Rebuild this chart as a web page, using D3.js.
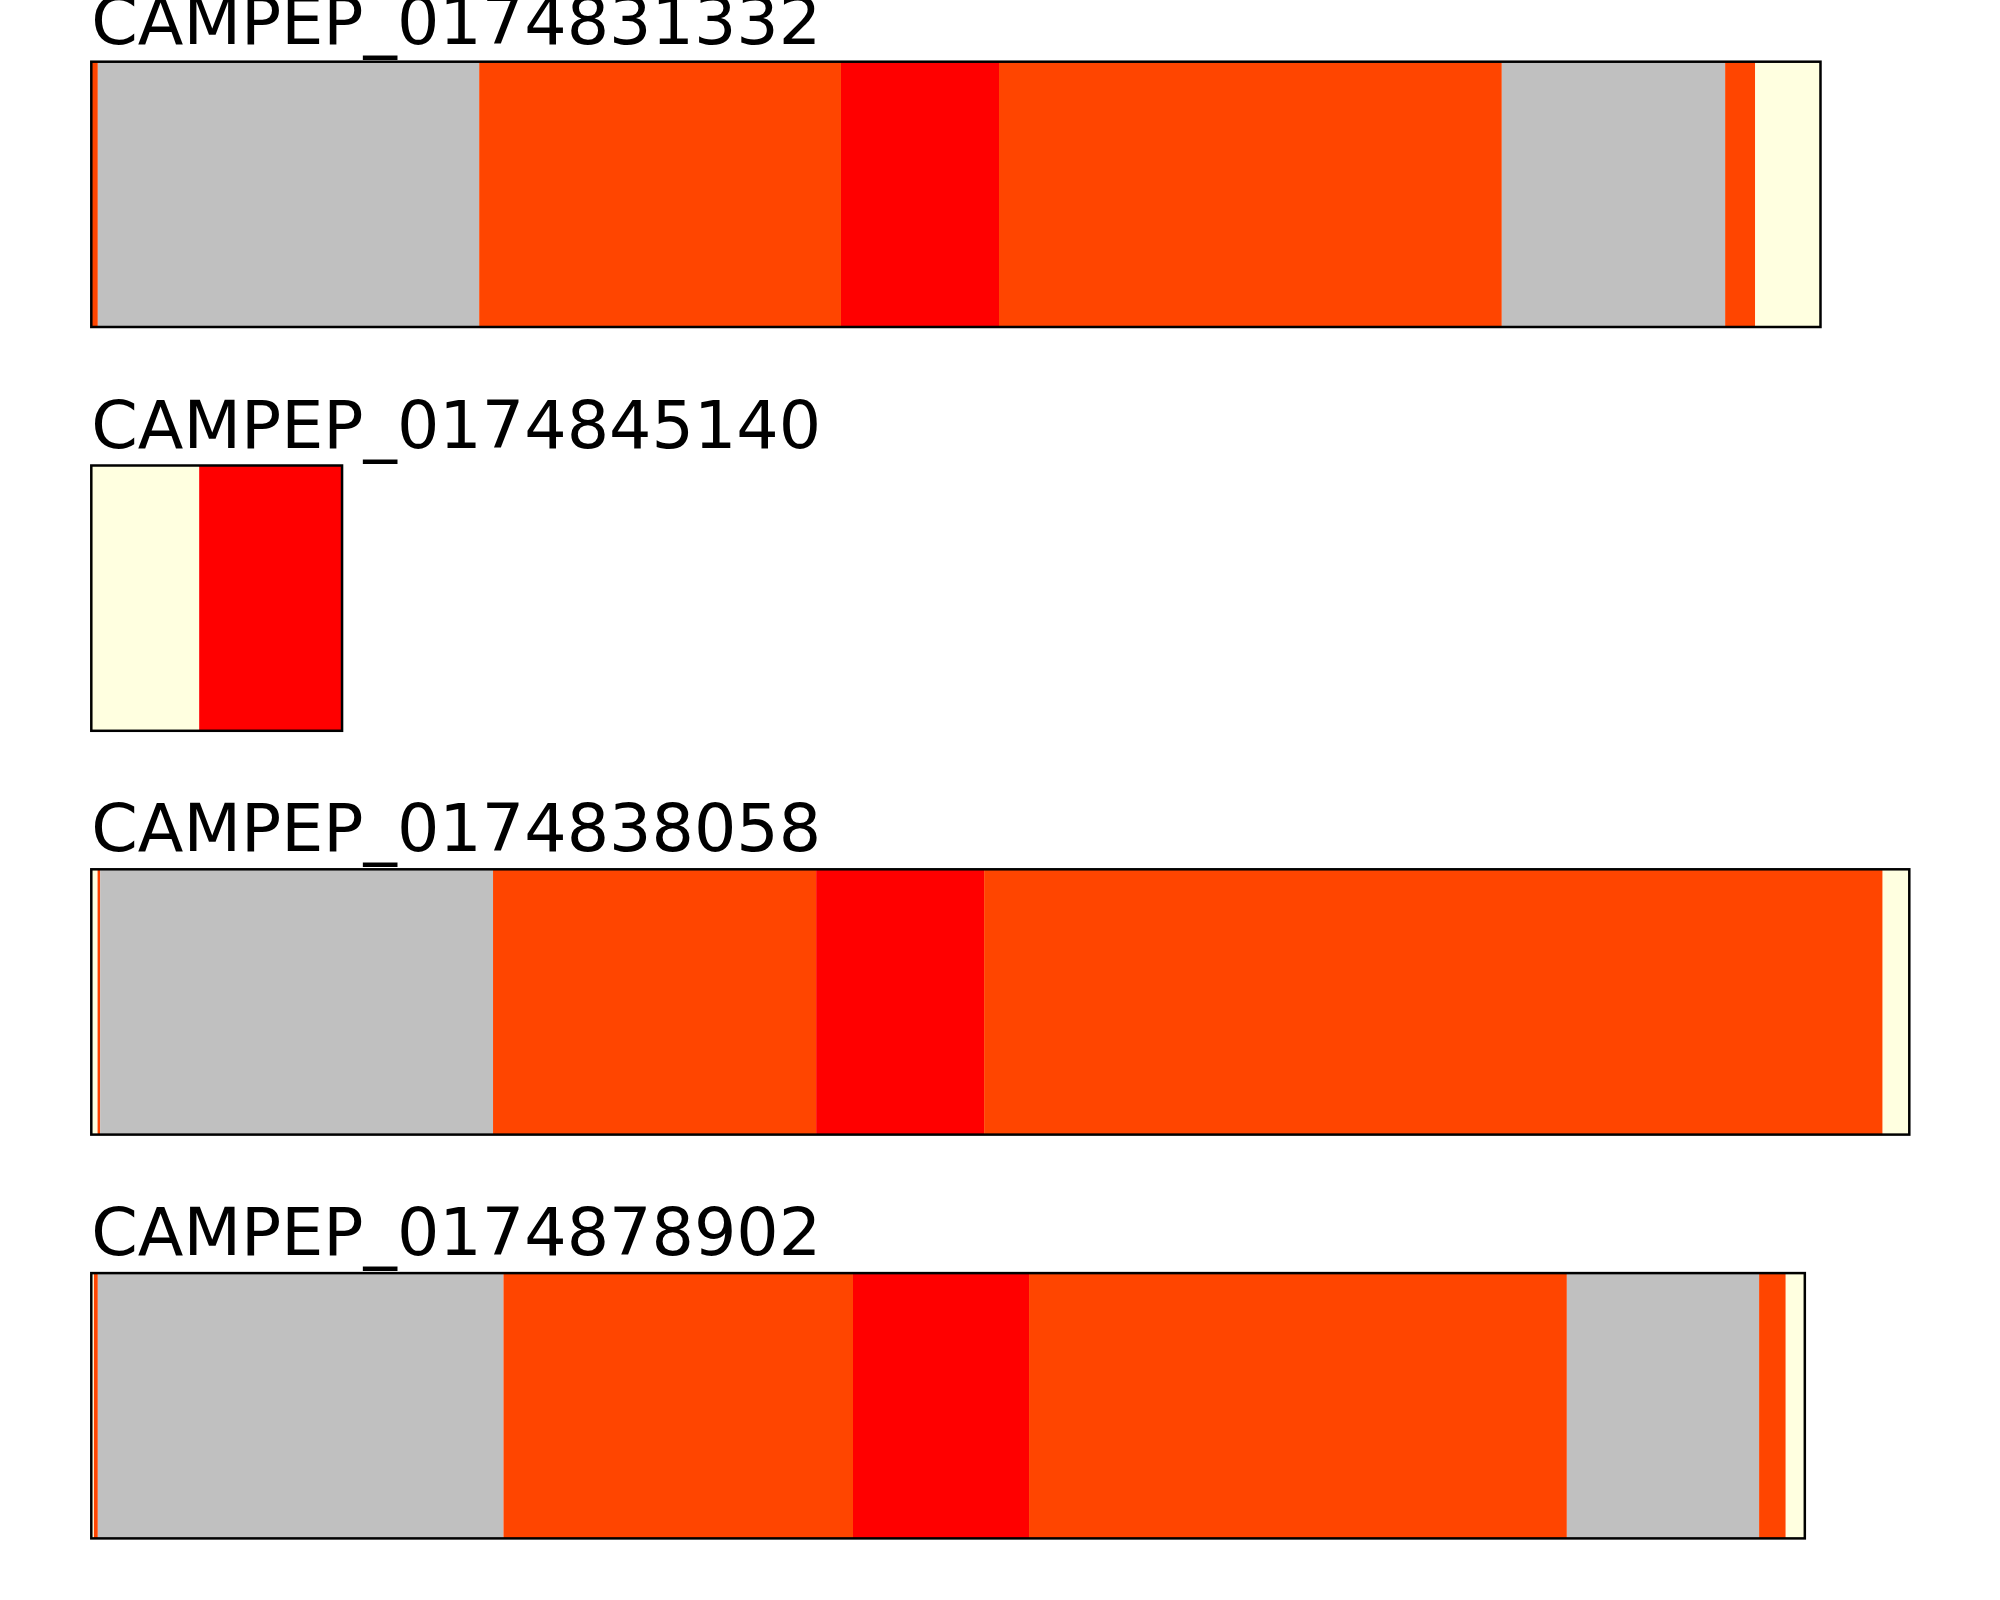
<!DOCTYPE html>
<html>
<head>
<meta charset="utf-8">
<script src="https://cdn.jsdelivr.net/npm/d3@7"></script>
<style>
    body { margin: 0; background: #ffffff; }
    .title { font-family: "DejaVu Sans", sans-serif; font-size: 66.7px; fill: #000000; }
</style>
</head>
<body>
<div id="chart"></div>
<script>
const chart_svg_id = "segments-svg";

// one row per sequence, in drawing order
const seqIds = ["CAMPEP_0174831332", "CAMPEP_0174845140", "CAMPEP_0174838058", "CAMPEP_0174878902"];
const seqLengths = [662, 96, 696, 656];

// segment edges (in residues) and the class of each segment between two edges
const edges1 = [0, 2.5, 148.5, 287, 347.5, 540, 625.5, 637, 662];
const kinds1 = ["orange", "grey", "orange", "red", "orange", "grey", "orange", "yellow"];
const edges2 = [0, 41.3, 96];
const kinds2 = ["yellow", "red"];
const edges3 = [0, 2.4, 3.4, 153.8, 277.5, 341.8, 685.8, 696];
const kinds3 = ["yellow", "orange", "grey", "orange", "red", "orange", "yellow"];
const edges4 = [0, 1, 2.5, 157.8, 291.6, 359, 564.9, 638.5, 648.7, 656];
const kinds4 = ["yellow", "orange", "grey", "orange", "red", "orange", "grey", "orange", "yellow"];

const kindNames = ["grey", "orange", "red", "yellow"];
const kindColors = ["#c0c0c0", "#ff4500", "#ff0000", "#ffffe0"];

const allEdges = [edges1, edges2, edges3, edges4];
const allKinds = [kinds1, kinds2, kinds3, kinds4];

buildRows();

function buildRows() {
    let rows = seqIds.map(function (id, i) {
        let segs = [];
        for (let j = 0; j < allKinds[i].length; j++) {
            segs.push({start: allEdges[i][j], end: allEdges[i][j + 1], kind: allKinds[i][j]});
        }
        return {id: id, length: seqLengths[i], segments: segs};
    });
    drawSegments(rows);
}

function drawSegments(rows) {
    const width = 2000, height = 1600;

    let svg = d3.select("#chart")
        .append("svg")
        .attr("id", chart_svg_id)
        .attr("width", width)
        .attr("height", height);

    let x = d3.scaleLinear()
        .domain([0, d3.max(seqLengths)])
        .range([91.3, 1909.3]);

    let y = d3.scaleBand()
        .domain(seqIds)
        .range([61.7, 1538.4])
        .paddingInner(0.343)
        .paddingOuter(0);

    let color = d3.scaleOrdinal()
        .domain(kindNames)
        .range(kindColors);

    let row = svg.selectAll("g.row")
        .data(rows)
        .enter()
        .append("g")
        .attr("class", "row")
        .attr("transform", function (d) { return "translate(0," + y(d.id) + ")"; });

    row.selectAll("rect.seg")
        .data(function (d) { return d.segments; })
        .enter()
        .append("rect")
        .attr("class", "seg")
        .attr("x", function (d) { return x(d.start); })
        .attr("width", function (d) { return x(d.end) - x(d.start); })
        .attr("y", 0)
        .attr("height", y.bandwidth())
        .style("fill", function (d) { return color(d.kind); });

    // black frame round each sequence
    row.append("rect")
        .attr("x", x(0))
        .attr("width", function (d) { return x(d.length) - x(0); })
        .attr("y", 0)
        .attr("height", y.bandwidth())
        .style("fill", "none")
        .style("stroke", "#000000")
        .style("stroke-width", "2.5px");

    row.append("text")
        .attr("class", "title")
        .attr("x", x(0))
        .attr("y", -18)
        .text(function (d) { return d.id; });
}
</script>
</body>
</html>
